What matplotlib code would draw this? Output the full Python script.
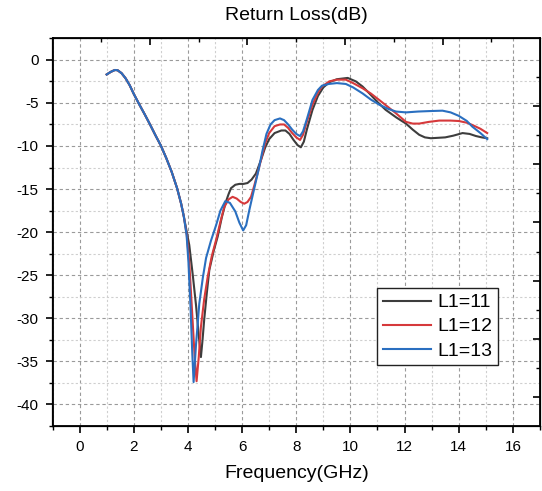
import matplotlib
matplotlib.use("Agg")
import matplotlib.pyplot as plt
from matplotlib.ticker import MultipleLocator, FixedLocator, NullFormatter

plt.rcParams['font.family'] = ['Liberation Sans', 'DejaVu Sans']
plt.rcParams['axes.unicode_minus'] = False

# ---- data ----
x_l11 = [1.00, 1.15, 1.30, 1.40, 1.55, 1.70, 1.85, 2.00, 2.20, 2.40, 2.60, 2.80, 3.00, 3.20, 3.40, 3.60, 3.75, 3.85, 3.97,
         4.05, 4.18, 4.30, 4.40, 4.48, 4.54, 4.60, 4.70, 4.79, 4.95, 5.10, 5.25, 5.40, 5.50, 5.59, 5.75, 5.90, 6.05, 6.20,
         6.35, 6.51, 6.70, 6.85, 7.00, 7.20, 7.45, 7.60, 7.75, 7.90, 8.05, 8.17, 8.28, 8.40, 8.60, 8.80, 9.00, 9.22, 9.50,
         9.90, 10.20, 10.45, 10.70, 11.00, 11.30, 11.70, 12.05, 12.30, 12.54, 12.75, 12.97, 13.50, 13.80, 14.14, 14.40,
         14.63, 14.85, 15.05]
y_l11 = [-1.70, -1.40, -1.18, -1.20, -1.55, -2.15, -2.95, -3.95, -5.15, -6.30, -7.50, -8.75, -9.95, -11.40, -13.00, -14.90, -16.70, -18.20, -20.20,
         -21.5, -25.0, -28.5, -32.0, -34.5, -32.5, -30.2, -27.0, -24.4, -22.2, -20.5, -18.3, -16.5, -15.6, -14.9, -14.5, -14.4, -14.4, -14.3,
         -13.9, -13.2, -11.6, -10.2, -9.2, -8.5, -8.2, -8.2, -8.6, -9.3, -9.9, -10.15, -9.5, -8.0, -5.8, -4.2, -3.2, -2.6, -2.25,
         -2.1, -2.5, -3.1, -3.9, -4.9, -5.8, -6.7, -7.4, -8.1, -8.7, -9.0, -9.1, -9.0, -8.8, -8.5, -8.6,
         -8.84, -9.0, -9.1]

x_l12 = [1.00, 1.15, 1.30, 1.40, 1.55, 1.70, 1.85, 2.00, 2.20, 2.40, 2.60, 2.80, 3.00, 3.20, 3.40, 3.60, 3.75, 3.85, 3.96,
         4.05, 4.15, 4.25, 4.32, 4.40, 4.48, 4.60, 4.73, 4.88, 5.04, 5.20, 5.34, 5.50, 5.65, 5.80, 5.95, 6.08, 6.20, 6.33,
         6.45, 6.57, 6.70, 6.85, 7.00, 7.20, 7.40, 7.55, 7.70, 7.85, 8.00, 8.14, 8.25, 8.40, 8.60, 8.80, 8.95, 9.22, 9.50,
         9.83, 10.10, 10.45, 10.75, 11.06, 11.40, 11.68, 12.05, 12.30, 12.54, 12.90, 13.28, 13.70, 14.00, 14.30, 14.50,
         14.80, 15.05]
y_l12 = [-1.70, -1.40, -1.18, -1.20, -1.55, -2.15, -2.95, -3.95, -5.15, -6.30, -7.50, -8.75, -9.95, -11.40, -13.00, -14.90, -16.70, -18.20, -20.40,
         -23.5, -29.0, -34.5, -37.3, -34.5, -31.0, -27.8, -25.2, -22.8, -20.9, -18.8, -17.1, -16.2, -15.9, -16.1, -16.5, -16.7, -16.5, -15.9,
         -14.6, -13.2, -11.6, -9.7, -8.5, -7.7, -7.5, -7.5, -7.9, -8.5, -9.0, -9.3, -8.7, -7.1, -5.2, -3.8, -3.1, -2.5, -2.3,
         -2.3, -2.7, -3.3, -3.9, -4.65, -5.5, -6.2, -7.2, -7.4, -7.4, -7.2, -7.05, -7.05, -7.1, -7.3, -7.56,
         -8.0, -8.5]

x_l13 = [1.00, 1.15, 1.30, 1.40, 1.55, 1.70, 1.85, 2.00, 2.20, 2.40, 2.60, 2.80, 3.00, 3.20, 3.40, 3.60, 3.75, 3.85, 3.95,
         4.02, 4.10, 4.16, 4.21, 4.30, 4.42, 4.55, 4.67, 4.85, 5.04, 5.20, 5.38, 5.55, 5.75, 5.90, 6.04, 6.15, 6.27, 6.40,
         6.51, 6.62, 6.75, 6.90, 7.05, 7.20, 7.40, 7.55, 7.70, 7.85, 8.00, 8.14, 8.25, 8.40, 8.60, 8.80, 8.95, 9.20, 9.50,
         9.83, 10.10, 10.45, 10.75, 11.06, 11.40, 11.68, 12.05, 12.50, 12.90, 13.40, 13.70, 14.00, 14.30, 14.50, 14.80,
         15.05]
y_l13 = [-1.70, -1.40, -1.18, -1.20, -1.55, -2.15, -2.95, -3.95, -5.15, -6.30, -7.50, -8.75, -9.95, -11.40, -13.00, -14.90, -16.70, -18.20, -20.30,
         -23.5, -29.0, -34.0, -37.4, -33.0, -28.3, -25.3, -23.0, -21.0, -19.2, -17.5, -16.4, -16.6, -17.6, -18.9, -19.8, -19.2, -17.4, -15.6,
         -14.1, -12.6, -10.6, -8.6, -7.5, -7.0, -6.8, -7.0, -7.5, -8.1, -8.6, -8.85, -8.3, -6.8, -4.65, -3.5, -3.0, -2.8, -2.7,
         -2.8, -3.2, -3.9, -4.6, -5.2, -5.7, -6.0, -6.1, -6.0, -5.95, -5.9, -6.1, -6.5, -7.1, -7.75, -8.5,
         -9.2]

labels = ["L1=11", "L1=12", "L1=13"]
colors = ["#3d3d3d", "#d6393b", "#2a6fc0"]

fig = plt.figure(figsize=(5.42, 4.91), dpi=100)
ax = fig.add_axes([52.5 / 542, (491 - 426) / 491, (540 - 52.5) / 542, (426 - 38.3) / 491])

for xs, ys, lab, c in zip([x_l11, x_l12, x_l13], [y_l11, y_l12, y_l13], labels, colors):
    ax.plot(xs, ys, color=c, lw=1.5, label=lab, solid_joinstyle='round')

ax.set_xlim(-1, 17)
ax.set_ylim(-42.5, 2.5)
ax.xaxis.set_major_locator(MultipleLocator(2))
ax.xaxis.set_minor_locator(MultipleLocator(1))
ax.yaxis.set_major_locator(MultipleLocator(5))
ax.yaxis.set_minor_locator(MultipleLocator(2.5))

ax.grid(which='major', color='#9a9a9a', linestyle=(0, (3, 2.5)), linewidth=0.8)
ax.grid(which='minor', color='#cfcfcf', linestyle=(0, (2, 2)), linewidth=0.8)
ax.set_axisbelow(True)

ax.tick_params(which='major', direction='out', length=5, width=1.2, labelsize=11, pad=5, top=False, right=False)
ax.tick_params(which='minor', direction='out', length=3, width=1.0, top=False, right=False)
for s in ax.spines.values():
    s.set_linewidth(1.3)

# top axis ticks (inward, no labels)
axt = ax.twiny()
axt.set_xlim(-1, 17)
axt.xaxis.set_major_locator(FixedLocator([2.6, 6.2, 9.8, 13.4]))
axt.xaxis.set_minor_locator(FixedLocator([0.8, 4.4, 8.0, 11.6, 15.2]))
axt.xaxis.set_major_formatter(NullFormatter())
axt.tick_params(which='major', direction='in', length=5, width=1.2)
axt.tick_params(which='minor', direction='in', length=3, width=1.0)

# right axis ticks (inward, no labels)
axr = ax.twinx()
axr.set_ylim(-42.5, 2.5)
axr.yaxis.set_major_locator(FixedLocator([-39.125, -32.375, -25.625, -18.875, -12.125, -5.375]))
axr.yaxis.set_minor_locator(FixedLocator([-35.75, -29.0, -22.25, -15.5, -8.75, -2.0]))
axr.yaxis.set_major_formatter(NullFormatter())
axr.tick_params(which='major', direction='in', length=5, width=1.2)
axr.tick_params(which='minor', direction='in', length=3, width=1.0)

fig.text(296 / 542, 1 - 15 / 491, "Return Loss(dB)", ha='center', va='center', fontsize=14)
ax.set_xlabel("Frequency(GHz)", fontsize=14, labelpad=8)

leg = ax.legend(loc='upper left', bbox_to_anchor=((377 - 52.5) / 487.5, (426 - 288) / 387.7),
                borderaxespad=0, fontsize=14, frameon=True, fancybox=False, framealpha=1,
                edgecolor='#222222', handlelength=2.5, handletextpad=0.3, labelspacing=0.33,
                borderpad=0.3)
leg.get_frame().set_linewidth(1.0)

fig.savefig("out.png", dpi=100)
